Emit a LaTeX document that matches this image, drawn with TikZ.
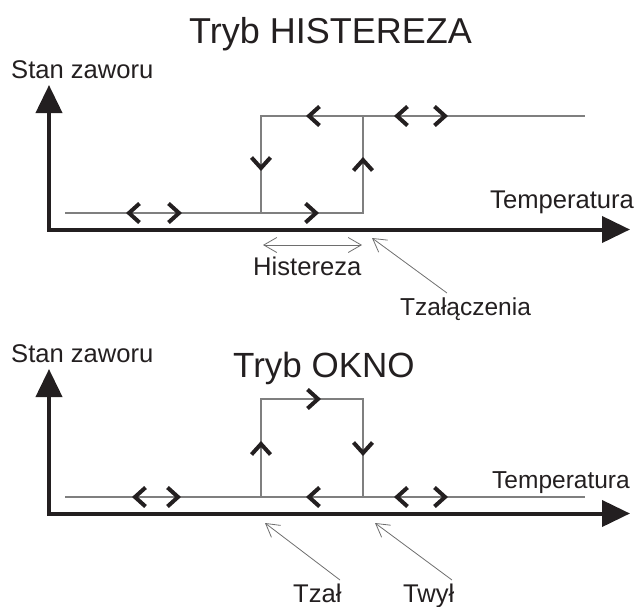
\documentclass[tikz,border=0pt]{standalone}
\usepackage{fontspec}
\setmainfont{Liberation Sans}
\usetikzlibrary{arrows.meta}
\definecolor{ink}{HTML}{231F20}
\definecolor{plotgray}{HTML}{7F7F7F}
\definecolor{annogray}{HTML}{6E6E6E}
\tikzset{
  axis/.style={draw=ink, line width=4pt, line join=miter,
    {Triangle[length=28pt,width=26pt]}-{Triangle[length=28pt,width=26pt]}},
  plotline/.style={draw=plotgray, line width=1.3pt},
  chevron/.style={draw=ink, line width=4pt, line join=miter, line cap=butt},
  anno/.style={draw=annogray, line width=0.8pt, -{Straight Barb[length=13pt,width=15pt,line width=0.8pt]}},
  annotwo/.style={draw=annogray, line width=0.8pt,
    {Straight Barb[length=13pt,width=15pt,line width=0.8pt]}-{Straight Barb[length=13pt,width=15pt,line width=0.8pt]}},
  lbl/.style={inner sep=0pt, anchor=base west, text=ink, font=\fontsize{25.6}{30}\selectfont},
  lblsmall/.style={lbl, font=\fontsize{24.5}{29}\selectfont},
  ttl/.style={inner sep=0pt, anchor=base west, text=ink},
  chevL/.pic={\draw[chevron] (10.5,-9.5) -- (0,0) -- (10.5,9.5);},
  chevR/.pic={\draw[chevron] (-10.5,-9.5) -- (0,0) -- (-10.5,9.5);},
  chevU/.pic={\draw[chevron] (-9.5,10.5) -- (0,0) -- (9.5,10.5);},
  chevD/.pic={\draw[chevron] (-9.5,-10.5) -- (0,0) -- (9.5,-10.5);},
}
\begin{document}
\begin{tikzpicture}[x=1pt,y=-1pt]
\useasboundingbox (0,0) rectangle (638,606);

% ---------- top: Tryb HISTEREZA ----------
\node[ttl, font=\fontsize{36}{42}\selectfont] (t1) at (189,43) {Tryb HISTEREZA};
\node[lbl] (s1) at (11,78) {Stan zaworu};
\node[lbl] (temp1) at (490,208) {Temperatura};

\coordinate (v1) at (49,85);
\coordinate (c1) at (49,229.5);
\coordinate (h1) at (630,229.5);
\draw[axis] (v1) -- (c1) -- (h1);

\draw[plotline] (65,213) -- (363,213) -- (363,116);
\draw[plotline] (261,213) -- (261,116) -- (585,116);

\pic at (129,213) {chevL};
\pic at (179,213) {chevR};
\pic at (316,213) {chevR};
\pic at (309,116) {chevL};
\pic at (397,116) {chevL};
\pic at (445,116) {chevR};
\pic at (261,168) {chevD};
\pic at (363,160) {chevU};

\coordinate (hA) at (263,245);
\coordinate (hB) at (362,245);
\draw[annotwo] (hA) -- (hB);
\node[lbl] (hist) at (253,275) {Histereza};

\node[lblsmall] (tzal1) at (400,315) {Tzałączenia};
\coordinate (tz1tail) at (447,293);
\coordinate (tz1tip) at (372,238);
\draw[anno] (tz1tail) -- (tz1tip);

% ---------- bottom: Tryb OKNO ----------
\node[ttl, font=\fontsize{35}{41}\selectfont] (t2) at (233,377) {Tryb OKNO};
\node[lbl] (s2) at (11,362) {Stan zaworu};
\node[lblsmall] (temp2) at (492,488) {Temperatura};

\coordinate (v2) at (49,369);
\coordinate (c2) at (49,513.5);
\coordinate (h2) at (630,513.5);
\draw[axis] (v2) -- (c2) -- (h2);

\draw[plotline] (65,497) -- (585,497);
\draw[plotline] (261,497) -- (261,399) -- (363,399) -- (363,497);

\pic at (135,497) {chevL};
\pic at (178,497) {chevR};
\pic at (261,444) {chevU};
\pic at (318,399) {chevR};
\pic at (363,453) {chevD};
\pic at (309,497) {chevL};
\pic at (397,497) {chevL};
\pic at (445,497) {chevR};

\node[lbl] (tzal2) at (293,602) {Tzał};
\node[lbl] (twyl) at (403,602) {Twył};
\coordinate (a1tail) at (340,580);
\coordinate (a1tip) at (265,523);
\coordinate (a2tail) at (452,580);
\coordinate (a2tip) at (375,523);
\draw[anno] (a1tail) -- (a1tip);
\draw[anno] (a2tail) -- (a2tip);
\end{tikzpicture}
\end{document}
